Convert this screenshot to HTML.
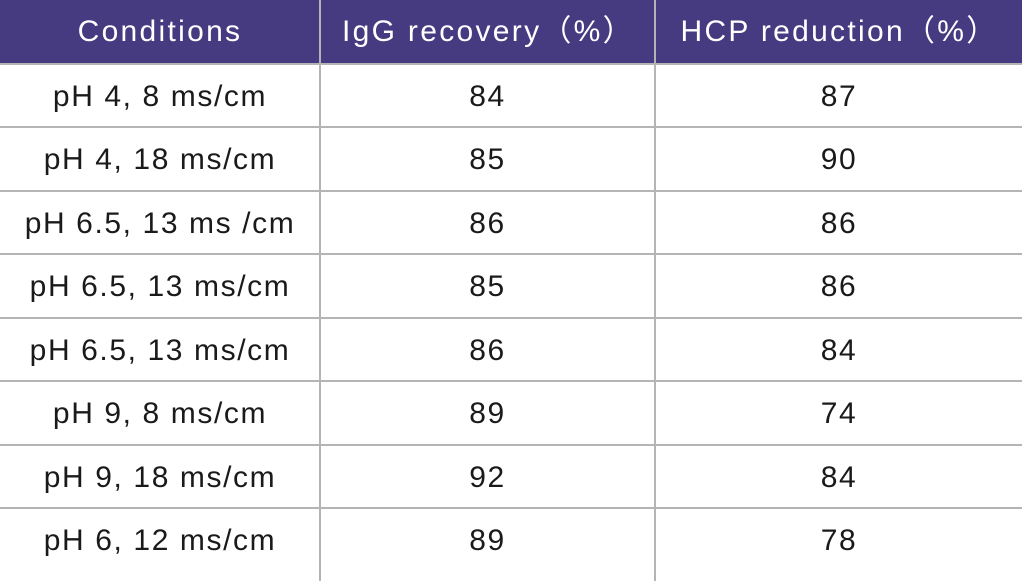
<!DOCTYPE html>
<html><head><meta charset="utf-8"><style>
html,body{margin:0;padding:0;background:#fff}
body{width:1022px;height:581px;position:relative;overflow:hidden;font-family:"Liberation Sans","Noto Sans CJK SC",sans-serif;color:#1a1a1a}
.hdr{position:absolute;left:0;top:0;width:1022px;height:63px;background:#463a80}
.h{position:absolute;top:0;height:63px;line-height:63px;color:#fff;font-size:30px;text-align:center;letter-spacing:2.3px}
.hl{position:absolute;left:0;width:1022px;height:2px;background:#b4b4b4}
.vl{position:absolute;top:0;width:2px;height:581px;background:#b4b4b4}
.c{position:absolute;font-size:30px;text-align:center;height:63px;line-height:65px;letter-spacing:1.6px}
</style></head><body>
<div class="hdr"></div>
<div class="h" style="left:0;width:320px">Conditions</div>
<div class="h" style="left:322px;width:333px">IgG recovery（%）</div>
<div class="h" style="left:657px;width:365px">HCP reduction（%）</div>
<div class="vl" style="left:319px"></div>
<div class="vl" style="left:654px"></div>
<div class="hl" style="top:63px"></div>
<div class="hl" style="top:126px"></div>
<div class="hl" style="top:190px"></div>
<div class="hl" style="top:253px"></div>
<div class="hl" style="top:317px"></div>
<div class="hl" style="top:380px"></div>
<div class="hl" style="top:444px"></div>
<div class="hl" style="top:507px"></div>

<div class="c" style="left:0;width:320px;top:64px">pH 4, 8 ms/cm</div>
<div class="c" style="left:321px;width:333px;top:64px">84</div>
<div class="c" style="left:656px;width:366px;top:64px">87</div>

<div class="c" style="left:0;width:320px;top:127px">pH 4, 18 ms/cm</div>
<div class="c" style="left:321px;width:333px;top:127px">85</div>
<div class="c" style="left:656px;width:366px;top:127px">90</div>

<div class="c" style="left:0;width:320px;top:191px">pH 6.5, 13 ms /cm</div>
<div class="c" style="left:321px;width:333px;top:191px">86</div>
<div class="c" style="left:656px;width:366px;top:191px">86</div>

<div class="c" style="left:0;width:320px;top:254px">pH 6.5, 13 ms/cm</div>
<div class="c" style="left:321px;width:333px;top:254px">85</div>
<div class="c" style="left:656px;width:366px;top:254px">86</div>

<div class="c" style="left:0;width:320px;top:318px">pH 6.5, 13 ms/cm</div>
<div class="c" style="left:321px;width:333px;top:318px">86</div>
<div class="c" style="left:656px;width:366px;top:318px">84</div>

<div class="c" style="left:0;width:320px;top:381px">pH 9, 8 ms/cm</div>
<div class="c" style="left:321px;width:333px;top:381px">89</div>
<div class="c" style="left:656px;width:366px;top:381px">74</div>

<div class="c" style="left:0;width:320px;top:445px">pH 9, 18 ms/cm</div>
<div class="c" style="left:321px;width:333px;top:445px">92</div>
<div class="c" style="left:656px;width:366px;top:445px">84</div>

<div class="c" style="left:0;width:320px;top:508px">pH 6, 12 ms/cm</div>
<div class="c" style="left:321px;width:333px;top:508px">89</div>
<div class="c" style="left:656px;width:366px;top:508px">78</div>
</body></html>
